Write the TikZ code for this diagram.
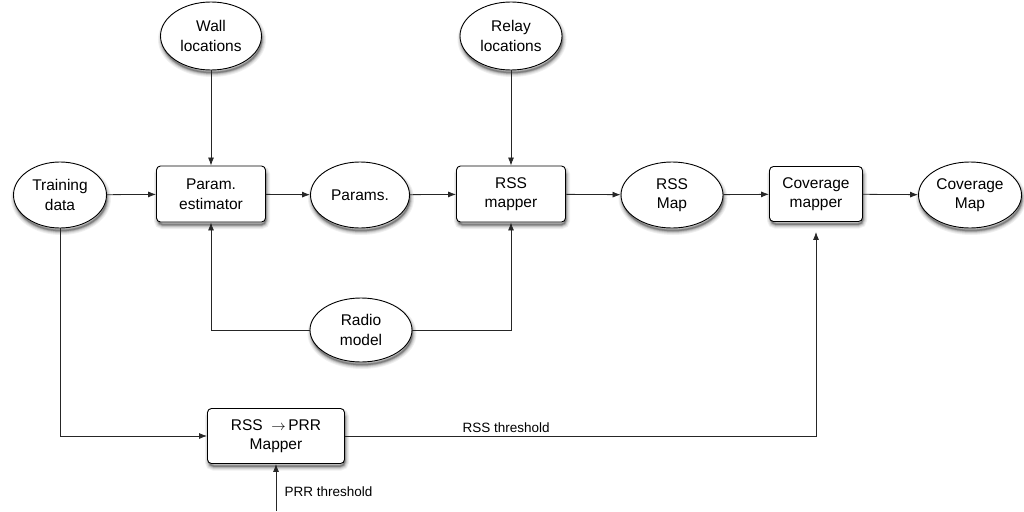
\documentclass[tikz,border=0pt]{standalone}
\usepackage{fontspec}
\setmainfont{Liberation Sans}
\usetikzlibrary{shapes.geometric,arrows.meta}
% layered grey outlines, widest and palest first, form a soft shadow
\tikzset{
  shadeA/.style={draw=black!6,  line width=9pt},
  shadeB/.style={draw=black!12, line width=7pt},
  shadeC/.style={draw=black!22, line width=5pt},
  shadeD/.style={draw=black!35, line width=3pt},
  shadeE/.style={draw=black!50, line width=1.5pt}
}
% shadow under an ellipse centred on coordinate #1, width #2, height #3
\newcommand\ellshadow[3]{%
  \foreach \s in {shadeA,shadeB,shadeC,shadeD,shadeE}{%
    \path[\s] ([shift={(1,3.5)}]#1) ellipse [x radius=#2/2-1, y radius=#3/2-1];
  }}
% shadow under a rounded box centred on coordinate #1, width #2, height #3
\newcommand\boxshadow[3]{%
  \foreach \s in {shadeA,shadeB,shadeC,shadeD,shadeE}{%
    \path[\s, rounded corners=4pt] ([shift={(-#2/2+2,-#3/2+4.5)}]#1) rectangle ([shift={(#2/2,#3/2+2.5)}]#1);
  }}
\begin{document}
\begin{tikzpicture}[x=1pt,y=-1pt,
  every node/.style={font=\fontsize{15.5}{19.5}\selectfont, align=center},
  datanode/.style={ellipse, draw, line width=0.9pt, fill=white, inner sep=0pt, minimum height=66pt},
  procbox/.style={rectangle, rounded corners=4pt, draw, line width=0.9pt, fill=white, inner sep=0pt, minimum height=56pt},
  link/.style={-{Latex[length=8pt,width=6pt]}, line width=0.8pt, draw=black!85},
  smalltext/.style={font=\fontsize{13.5}{16}\selectfont}
]
\useasboundingbox (0,0) rectangle (1024,511);

% centres of all shapes
\coordinate (wallc) at (211,36);
\coordinate (relayc) at (511,36);
\coordinate (trainc) at (60,195);
\coordinate (pestc) at (211,194);
\coordinate (paramsc) at (360,195);
\coordinate (rssmc) at (511,194);
\coordinate (rssmapc) at (672,195);
\coordinate (covc) at (816,194);
\coordinate (covmapc) at (970,195);
\coordinate (radioc) at (361,330);
\coordinate (prrc) at (276,436);

% shadows, laid down before the shapes cover them
\ellshadow{wallc}{101}{68}
\ellshadow{relayc}{102}{68}
\ellshadow{trainc}{93}{66}
\ellshadow{paramsc}{99}{66}
\ellshadow{rssmapc}{102}{66}
\ellshadow{covmapc}{103}{66}
\ellshadow{radioc}{102}{64}
\boxshadow{pestc}{109}{56}
\boxshadow{rssmc}{109}{56}
\boxshadow{covc}{93}{55}
\boxshadow{prrc}{137}{55}

% inputs along the top
\node[datanode, minimum width=101pt, minimum height=68pt] (wall) at (wallc) {Wall\\locations};
\node[datanode, minimum width=102pt, minimum height=68pt] (relay) at (relayc) {Relay\\locations};

% main processing chain
\node[datanode, minimum width=93pt] (train) at (trainc) {Training\\data};
\node[procbox, minimum width=109pt] (pest) at (pestc) {Param.\\estimator};
\node[datanode, minimum width=99pt] (params) at (paramsc) {Params.};
\node[procbox, minimum width=109pt] (rssm) at (rssmc) {RSS\\mapper};
\node[datanode, minimum width=102pt] (rssmap) at (rssmapc) {RSS\\Map};
\node[procbox, minimum width=93pt, minimum height=55pt] (cov) at (covc) {Coverage\\mapper};
\node[datanode, minimum width=103pt] (covmap) at (covmapc) {Coverage\\Map};

% radio model feeding both estimator and mapper
\node[datanode, minimum width=102pt, minimum height=64pt] (radio) at (radioc) {Radio\\model};

% RSS to PRR conversion
\node[procbox, minimum width=137pt, minimum height=55pt] (prr) at (prrc) {RSS\ \ $\rightarrow$\,PRR\\Mapper};
\coordinate (prrin) at (276,511);

% connectors
\draw[link] (train) -- (pest);
\draw[link] (pest) -- (params);
\draw[link] (params) -- (rssm);
\draw[link] (rssm) -- (rssmap);
\draw[link] (rssmap) -- (cov);
\draw[link] (cov) -- (covmap);
\draw[link] (wall) -- (pest);
\draw[link] (relay) -- (rssm);
\draw[link] (radio.west) -| (pest.south);
\draw[link] (radio.east) -| (rssm.south);
\draw[link] (train.south) |- (prr.west);
\draw[link, shorten >=10pt] (prr.east) -| node[pos=0.171, above, smalltext, inner sep=3pt] (rssth) {RSS threshold} (cov.south);
\draw[link] (prrin) -- (prr.south);
\node[smalltext, anchor=west] (prrth) at (281,492) {PRR threshold};
\end{tikzpicture}
\end{document}
